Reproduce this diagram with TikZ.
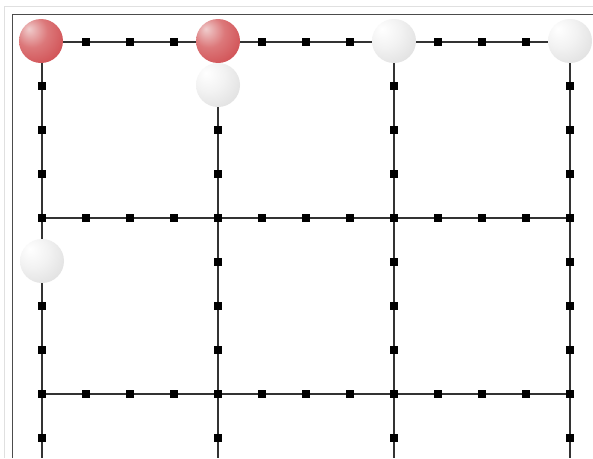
\documentclass[tikz,border=0pt]{standalone}
\pgfdeclareradialshading{whiteball}{\pgfpoint{-14bp}{14bp}}{color(0bp)=(white); color(18bp)=(black!5); color(40bp)=(black!13); color(62bp)=(black!20); color(75bp)=(black!22)}
\pgfdeclareradialshading{redball}{\pgfpoint{-14bp}{14bp}}{color(0bp)=(rgb,255:red,240;green,205;blue,205); color(18bp)=(rgb,255:red,220;green,120;blue,122); color(38bp)=(rgb,255:red,208;green,78;blue,82); color(62bp)=(rgb,255:red,196;green,60;blue,65); color(75bp)=(rgb,255:red,188;green,52;blue,58)}
\tikzset{
  gridline/.style={draw=black!80, line width=2pt},
  tick/.style={fill=black, minimum size=8.5pt, inner sep=0pt, draw=none, rectangle},
  wball/.style={circle, minimum size=44pt, inner sep=0pt, shading=whiteball},
  rball/.style={circle, minimum size=44pt, inner sep=0pt, shading=redball},
}
\begin{document}
\begin{tikzpicture}[x=1pt,y=-1pt]
\useasboundingbox (0,0) rectangle (593,458);
\fill[white] (0,0) rectangle (593,458);
% frame
\draw[black!12, line width=1pt] (4,458) -- (4,6) -- (593,6);
\draw[black!70, line width=1.2pt] (12.5,458) -- (12.5,14.5) -- (593,14.5);
% grid lines
\foreach \y in {42,218,394} \draw[gridline] (42,\y) -- (570,\y);
\foreach \x in {42,218,394,570} \draw[gridline] (\x,42) -- (\x,458);
% ticks
\foreach \y in {42,218,394}
  \foreach \i in {0,...,12} \node[tick] at ({42+44*\i},\y) {};
\foreach \x in {42,218,394,570}
  \foreach \i in {1,...,9} \node[tick] at (\x,{42+44*\i}) {};
% balls
\node[rball] (r1) at (41,41) {};
\node[rball] (r2) at (218,41) {};
\node[wball] (w1) at (218,85) {};
\node[wball] (w2) at (394,41) {};
\node[wball] (w3) at (570,41) {};
\node[wball] (w4) at (42,261) {};
\end{tikzpicture}
\end{document}
